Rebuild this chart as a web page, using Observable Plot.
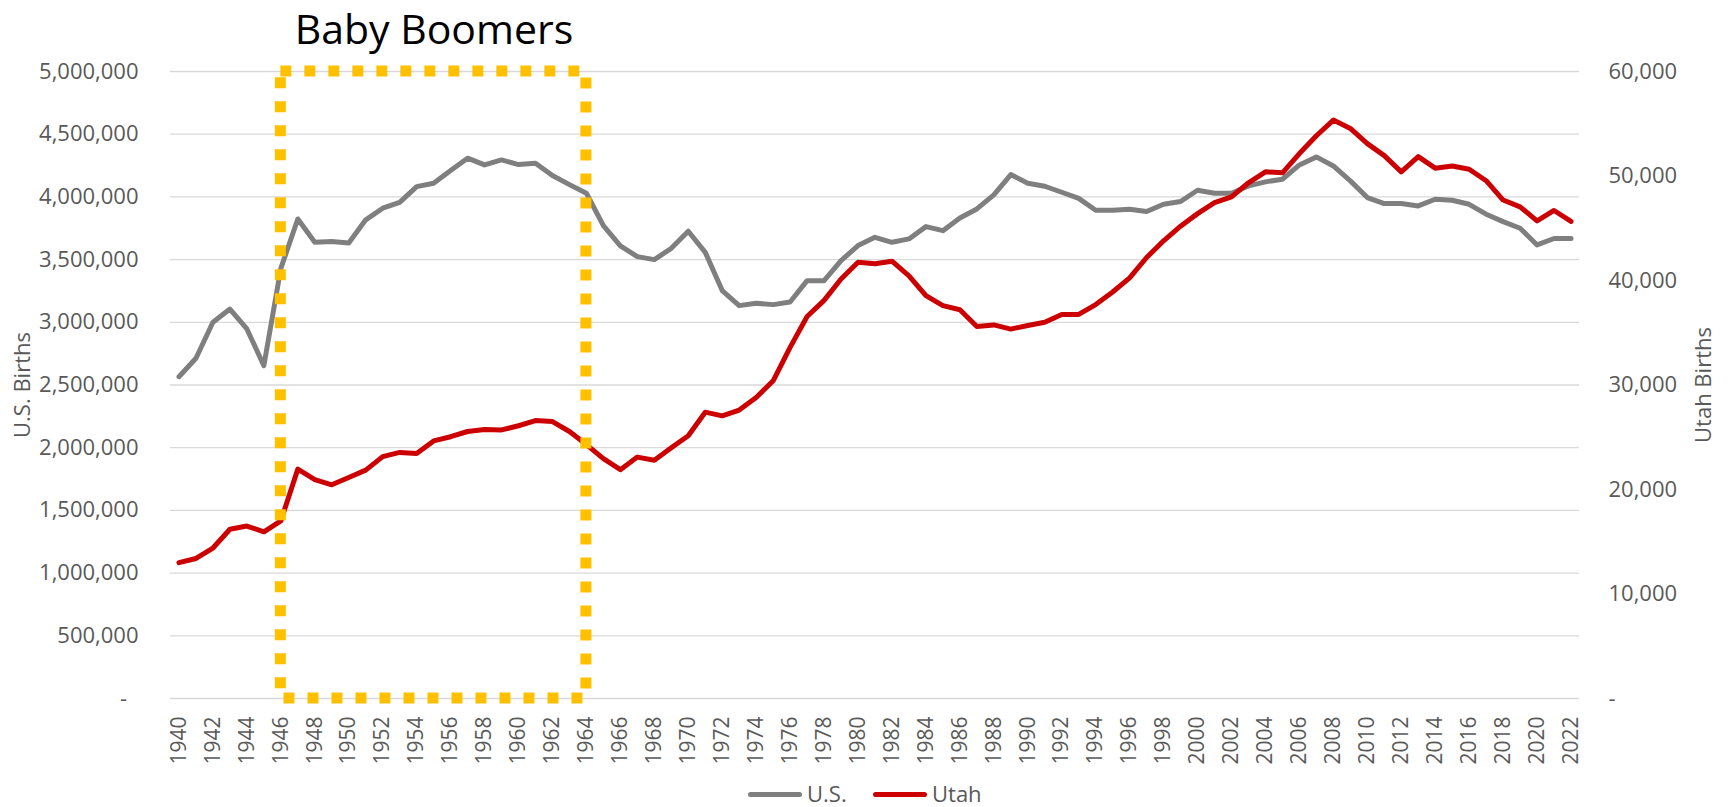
<!DOCTYPE html>
<html>
<head>
<meta charset="utf-8">
<script src="https://cdn.jsdelivr.net/npm/d3@7"></script>
<script src="https://cdn.jsdelivr.net/npm/@observablehq/plot@0.6"></script>
<style>
  html, body { margin: 0; padding: 0; background: #fff; }
  #wrap { width: 1731px; height: 807px; font-family: "Open Sans", sans-serif; position: relative; overflow: hidden; }
  #title { position: relative; height: 50px; }
  #title span { position: absolute; left: 434px; top: 3px; transform: translateX(-50%); white-space: nowrap;
    font-size: 41px; line-height: 50px; color: #000; }
  #chart svg { display: block; }
  #legend { position: relative; height: 37px; }
  #legend .sw { position: absolute; top: 21.5px; width: 54px; height: 5px; border-radius: 2.5px; }
  #legend .lt { position: absolute; top: 11.5px; font-size: 22px; line-height: 22px; color: #595959; white-space: nowrap; }
</style>
</head>
<body>
<div id="wrap">
  <div id="title"><span>Baby Boomers</span></div>
  <div id="chart"></div>
  <div id="legend">
    <span class="sw" style="left:748px;background:#7f7f7f"></span><span class="lt" style="left:807px">U.S.</span>
    <span class="sw" style="left:873px;background:#cc0000"></span><span class="lt" style="left:932px">Utah</span>
  </div>
</div>
<script>
// Categories
const years = d3.range(1940, 2023);

// U.S. births (left axis)
const usBirths = [
  2566000, 2713000, 3000000, 3106000, 2947000, 2654000, 3430000, 3824000, 3638000, 3644000,
  3633000, 3817000, 3910000, 3957000, 4082000, 4109000, 4210000, 4309000, 4255000, 4295000,
  4258000, 4269000, 4170000, 4098000, 4029000, 3771000, 3610000, 3524000, 3500000, 3590000,
  3726000, 3558000, 3253000, 3133000, 3152000, 3141000, 3162000, 3332000, 3332000, 3492000,
  3612000, 3678000, 3638000, 3665000, 3763000, 3731000, 3832000, 3904000, 4016000, 4178000,
  4109000, 4085000, 4037000, 3988000, 3894000, 3894000, 3902000, 3883000, 3941000, 3963000,
  4053000, 4029000, 4029000, 4088000, 4120000, 4141000, 4255000, 4319000, 4247000, 4128000,
  3995000, 3947000, 3947000, 3928000, 3981000, 3973000, 3941000, 3862000, 3803000, 3750000,
  3617000, 3668000, 3668000
];

// Utah births (right axis)
const utahBirths = [
  13000, 13400, 14400, 16200, 16500, 15950, 17000, 21950, 20950, 20450,
  21150, 21850, 23150, 23550, 23450, 24650, 25050, 25550, 25750, 25700,
  26100, 26600, 26500, 25550, 24300, 22950, 21900, 23100, 22800, 24000,
  25150, 27400, 27050, 27600, 28800, 30400, 33600, 36550, 38100, 40150,
  41750, 41600, 41850, 40450, 38550, 37600, 37200, 35600, 35750, 35350,
  35700, 36000, 36750, 36750, 37700, 38900, 40250, 42200, 43800, 45200,
  46400, 47450, 48000, 49350, 50400, 50300, 52150, 53850, 55350, 54550,
  53100, 51950, 50400, 51850, 50750, 50950, 50650, 49550, 47700, 47050,
  45700, 46700, 45650
];

// Tick labels
const yearTicks = d3.range(1940, 2023, 2);
const usTicks = [0, 500000, 1000000, 1500000, 2000000, 2500000, 3000000, 3500000, 4000000, 4500000, 5000000];
const utahTicks = [0, 10000, 20000, 30000, 40000, 50000, 60000];

// Baby boom highlight
const boomStart = 1946;
const boomEnd = 1964;

const usMax = 5000000;
const utahMax = 60000;
const k = usMax / utahMax;

const rows = years.map((year, i) => ({year, us: usBirths[i], utah: utahBirths[i]}));
const boom = [{start: boomStart, end: boomEnd, lo: 0, hi: usMax}];
const fmt = d3.format(",");

const chart = Plot.plot({
  width: 1731,
  height: 720,
  marginTop: 21,
  marginBottom: 72,
  marginLeft: 170,
  marginRight: 152,
  style: {fontFamily: "'Open Sans', sans-serif", color: "#595959", background: "#fff", overflow: "visible"},
  x: {domain: [years[0] - 0.5, years[years.length - 1] + 0.5]},
  y: {domain: [0, usMax]},
  marks: [
    Plot.ruleY(usTicks, {stroke: "#d9d9d9", strokeWidth: 1.3}),
    Plot.axisY({ticks: usTicks, tickFormat: d => d === 0 ? "-\u00a0\u00a0" : fmt(d),
      tickSize: 0, tickPadding: 32, fontSize: 22, label: null}),
    Plot.axisY({anchor: "right", ticks: utahTicks.map(d => d * k),
      tickFormat: d => { const v = Math.round(d / k); return v === 0 ? "-" : fmt(v); },
      tickSize: 0, tickPadding: 29, fontSize: 22, label: null}),
    Plot.axisX({ticks: yearTicks, tickFormat: d => String(d), tickRotate: -90,
      tickSize: 0, tickPadding: 18, fontSize: 21, label: null}),
    Plot.text(["U.S. Births"], {text: d => d, frameAnchor: "left", dx: -148, rotate: -90,
      textAnchor: "middle", fontSize: 22, fill: "#595959"}),
    Plot.text(["Utah Births"], {text: d => d, frameAnchor: "right", dx: 124, rotate: -90,
      textAnchor: "middle", fontSize: 22, fill: "#595959"}),
    Plot.lineY(rows, {x: "year", y: "us", stroke: "#7f7f7f", strokeWidth: 5,
      strokeLinejoin: "round", strokeLinecap: "round"}),
    Plot.lineY(rows, {x: "year", y: d => d.utah * k, stroke: "#cc0000", strokeWidth: 5,
      strokeLinejoin: "round", strokeLinecap: "round"}),
    Plot.rect(boom, {x1: "start", x2: "end", y1: "lo", y2: "hi", fill: "none",
      stroke: "#ffc000", strokeWidth: 11, strokeDasharray: "11,13"})
  ]
});
document.getElementById("chart").appendChild(chart);
</script>
</body>
</html>
